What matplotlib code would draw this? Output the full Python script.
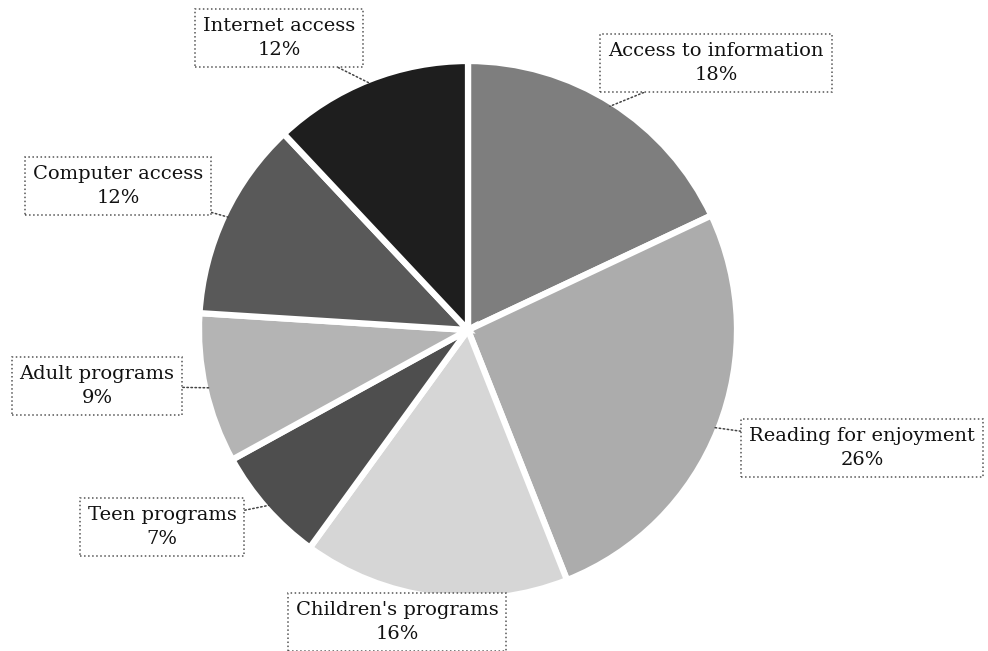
import matplotlib.pyplot as plt
import numpy as np

# -----------------------------
# Data
# -----------------------------
categories = [
    "Access to information",
    "Reading for enjoyment",
    "Children's programs",
    "Teen programs",
    "Adult programs",
    "Computer access",
    "Internet access",
]
shares = [18, 26, 16, 7, 9, 12, 12]

colors = ["#7e7e7e", "#acacac", "#d6d6d6", "#4e4e4e", "#b4b4b4", "#595959", "#1e1e1e"]

# label box centres in pixels (x, y from top)
label_xy = [(716, 63), (862, 448), (397, 622), (162, 527), (97, 386), (118, 186), (279, 38)]

W, H = 988, 651
cx, cy, r = 468, 330, 269

plt.rcParams["font.family"] = ["DejaVu Serif"]

fig = plt.figure(figsize=(W / 100, H / 100), dpi=100)
ax = fig.add_axes([0, 0, 1, 1])

wedges, _ = ax.pie(
    shares,
    colors=colors,
    startangle=90,
    counterclock=False,
    center=(cx, H - cy),
    radius=r,
    wedgeprops=dict(edgecolor="white", linewidth=4.5),
)

ax.set_xlim(0, W)
ax.set_ylim(0, H)
ax.set_aspect("equal")
ax.axis("off")

for w, name, val, (lx, ly) in zip(wedges, categories, shares, label_xy):
    mid = np.deg2rad((w.theta1 + w.theta2) / 2)
    px = cx + (r - 4) * np.cos(mid)
    py = (H - cy) + (r - 4) * np.sin(mid)
    ax.annotate(
        f"{name}\n{val}%",
        xy=(px, py),
        xytext=(lx, H - ly),
        ha="center",
        va="center",
        fontsize=14,
        linespacing=1.45,
        color="#111111",
        bbox=dict(boxstyle="square,pad=0.4", facecolor="white",
                  edgecolor="#555555", linestyle=":", linewidth=1.1),
        arrowprops=dict(arrowstyle="-", linestyle=":", color="#444444",
                        linewidth=1.1, shrinkA=0, shrinkB=0),
    )

fig.savefig("out.png", dpi=100)
